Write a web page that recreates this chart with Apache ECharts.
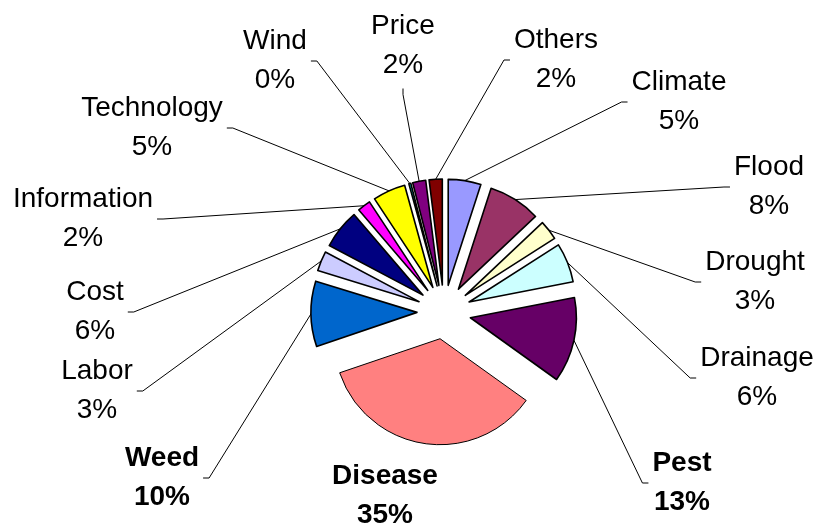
<!DOCTYPE html>
<html>
<head>
<meta charset="utf-8">
<script src="https://cdn.jsdelivr.net/npm/echarts@6/dist/echarts.min.js"></script>
<style>
html,body{margin:0;padding:0;background:#ffffff;}
#c{width:819px;height:526px;}
</style>
</head>
<body>
<div id="c"></div>
<script>
// ---- data ----
const categories = ['Climate','Flood','Drought','Drainage','Pest','Disease','Weed','Labor','Cost','Information','Technology','Wind','Price','Others'];
const values = [5, 8, 3, 6, 13, 35, 10, 3, 6, 2, 5, 0.3, 2, 2];
const colors = ['#9999FF','#993366','#FFFFCC','#CCFFFF','#660066','#FF8080','#0066CC','#CCCCFF','#000080','#FF00FF','#FFFF00','#00FFFF','#800080','#800000'];
const boldLabels = ['Pest','Disease','Weed'];
const noLeader = ['Disease'];
// label block centres (layout only)
const labelCenters = [[679,102],[769,187],[755,282],[757,378],[682,483],[385,496],[162,478],[97,391],[95,312],[83,219],[152,128],[275,61],[403,46],[556,60]];

// ---- layout constants ----
const PIE_CENTER = [444, 312];
const RADIUS = 106;
const OFFSET = 27;
const GAP = 4, TICK = 6;

const chart = echarts.init(document.getElementById('c'), null, {renderer: 'canvas'});

function layoutLabel(params) {
  const i = params.dataIndex;
  const px = labelCenters[i][0], py = labelCenters[i][1];
  const w = params.labelRect.width, h = params.labelRect.height;
  const out = {x: px, y: py, align: 'center', verticalAlign: 'middle'};
  const data = chart.getModel().getSeriesByIndex(1).getData();
  const lay = data.getItemLayout(i);
  const mid = (lay.startAngle + lay.endAngle) / 2;
  const rr = lay.r + OFFSET;
  const ax = lay.cx + rr * Math.cos(mid);
  const ay = lay.cy + rr * Math.sin(mid);
  const dx = px - ax;
  let attach, tick;
  if (Math.abs(dx) < w / 2) {
    if (py > ay) { attach = [px, py - h / 2 - GAP]; tick = [px, attach[1] - TICK]; }
    else { attach = [px, py + h / 2 + GAP]; tick = [px, attach[1] + TICK]; }
  } else if (dx > 0) {
    attach = [px - w / 2 - GAP, py]; tick = [attach[0] - TICK, py];
  } else {
    attach = [px + w / 2 + GAP, py]; tick = [attach[0] + TICK, py];
  }
  out.labelLinePoints = [[ax, ay], tick, attach];
  return out;
}

const sliceData = categories.map((name, i) => ({
  name: name,
  value: values[i],
  selected: true,
  itemStyle: {color: colors[i], borderColor: '#000', borderWidth: name === 'Disease' ? 1 : 1.6}
}));

const labelData = categories.map((name, i) => ({
  name: name,
  value: values[i],
  label: {fontWeight: boldLabels.includes(name) ? 'bold' : 'normal'},
  labelLine: {show: !noLeader.includes(name)}
}));

chart.setOption({
  animation: false,
  backgroundColor: '#ffffff',
  series: [{
    type: 'pie',
    center: PIE_CENTER,
    radius: RADIUS,
    startAngle: 90,
    clockwise: true,
    selectedMode: 'multiple',
    selectedOffset: OFFSET,
    silent: true,
    emphasis: {disabled: true},
    select: {itemStyle: {borderColor: '#000'}},
    label: {show: false},
    labelLine: {show: false},
    data: sliceData
  }, {
    type: 'pie',
    center: PIE_CENTER,
    radius: RADIUS,
    startAngle: 90,
    clockwise: true,
    silent: true,
    selectedMode: false,
    avoidLabelOverlap: false,
    minShowLabelAngle: 0,
    emphasis: {disabled: true},
    itemStyle: {color: 'rgba(0,0,0,0)', borderWidth: 0},
    label: {
      show: true,
      position: 'outside',
      fontFamily: 'Liberation Sans, Arial, sans-serif',
      fontSize: 28,
      lineHeight: 38.5,
      color: '#000',
      formatter: p => p.name + '\n' + Math.round(p.value) + '%'
    },
    labelLine: {show: true, length: 10, length2: 5, lineStyle: {color: '#000', width: 1}},
    labelLayout: layoutLabel,
    data: labelData
  }]
});
</script>
</body>
</html>
